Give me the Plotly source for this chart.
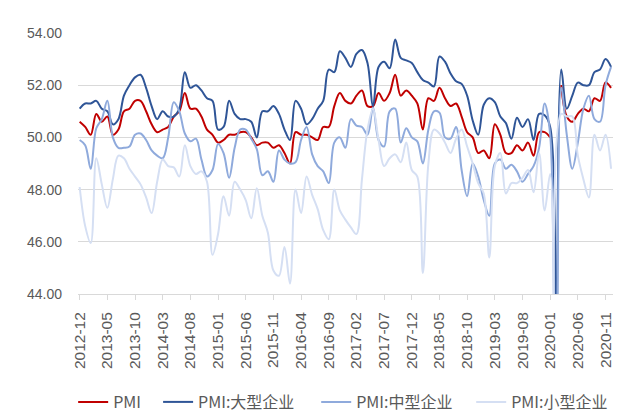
import pandas as pd
import plotly.graph_objects as go

months = pd.date_range("2012-12-01", periods=97, freq="MS").strftime("%Y-%m").tolist()

tick_labels = ["2012-12", "2013-05", "2013-10", "2014-03", "2014-08", "2015-01", "2015-06",
               "2015-11", "2016-04", "2016-09", "2017-02", "2017-07", "2017-12", "2018-05",
               "2018-10", "2019-03", "2019-08", "2020-01", "2020-06", "2020-11"]

# headline PMI has no point for 2020-02 in the chart (gap in the red line)
pmi = [50.6,
       50.4, 50.1, 50.9, 50.6, 50.8, 50.1, 50.3, 51.0, 51.1, 51.4, 51.4, 51.0,
       50.5, 50.2, 50.3, 50.4, 50.8, 51.0, 51.7, 51.1, 51.1, 50.8, 50.3, 50.1,
       49.8, 49.9, 50.1, 50.1, 50.2, 50.2, 50.0, 49.7, 49.8, 49.8, 49.6, 49.7,
       49.4, 49.0, 50.2, 50.1, 50.1, 50.0, 49.9, 50.4, 50.4, 51.2, 51.7, 51.4,
       51.3, 51.6, 51.8, 51.2, 51.2, 51.7, 51.4, 51.7, 52.4, 51.6, 51.8, 51.6,
       51.3, 50.3, 51.5, 51.4, 51.9, 51.5, 51.2, 51.3, 50.8, 50.2, 50.0, 49.4,
       49.5, 49.2, 50.5, 50.1, 49.4, 49.4, 49.7, 49.5, 49.8, 49.3, 50.2, 50.2,
       50.0, None, 52.0, 50.8, 50.6, 50.9, 51.1, 51.0, 51.5, 51.4, 52.1, 51.9]

pmi_large = [51.1,
             51.3, 51.3, 51.4, 51.1, 51.0, 50.5, 50.7, 51.6, 52.0, 52.3, 52.4, 51.9,
             51.2, 50.7, 51.0, 50.8, 50.8, 51.1, 52.5, 51.9, 52.0, 51.8, 51.5, 51.4,
             50.3, 50.4, 51.4, 50.9, 50.7, 50.7, 50.6, 50.0, 51.0, 51.0, 51.2, 50.9,
             50.3, 49.9, 51.4, 51.1, 50.5, 50.7, 51.1, 51.4, 52.6, 52.5, 53.3, 53.05,
             52.7, 53.2, 53.35, 52.85, 51.2, 52.7, 52.9, 52.65, 53.75, 53.05, 52.95, 52.85,
             52.5, 52.2, 52.1, 51.95, 53.1, 52.9, 52.45, 52.15, 52.05, 51.6, 50.65, 50.1,
             51.25, 51.5, 51.35, 50.8, 50.55, 49.95, 50.75, 50.4, 50.7, 49.9, 50.9, 50.85,
             50.4, 36.3, 52.6, 51.1, 51.6, 52.1, 52.0, 52.0, 52.5, 52.6, 53.0, 52.7]

pmi_medium = [49.9,
              49.7, 48.8, 50.35, 50.7, 51.4, 50.0, 49.6, 49.6, 49.65, 50.1, 50.15, 49.9,
              49.5, 49.3, 49.2, 50.0, 51.35, 51.0, 50.15, 49.85, 49.95, 49.15, 48.5, 48.75,
              49.75, 49.4, 48.45, 49.6, 50.3, 50.3, 49.95, 49.55, 48.55, 48.7, 48.3, 49.5,
              49.15, 49.0, 49.05, 49.9, 50.4, 49.35, 48.9, 48.7, 48.25, 49.8, 50.0, 49.6,
              50.7, 50.45, 50.4, 50.1, 51.15, 49.9, 49.65, 51.0, 51.1, 49.8, 50.35, 50.0,
              49.85, 49.0, 50.3, 51.0, 50.95, 50.0, 49.95, 50.4, 48.75, 47.75, 49.0, 48.5,
              47.6, 47.0, 49.0, 49.15, 48.8, 48.95, 48.7, 48.3, 48.6, 48.9, 49.6, 51.3,
              50.1, 35.5, 51.9, 50.1, 48.8, 49.8, 51.1, 51.6, 50.7, 50.6, 52.0, 52.7]

pmi_small = [48.1,
             46.6, 45.95, 49.2, 48.2, 47.3, 48.4, 49.3, 49.2, 48.8, 48.5, 48.2, 47.7,
             47.1, 48.3, 49.15, 48.9, 48.85, 48.5, 49.7, 48.9, 48.6, 48.7, 48.3, 45.5,
             46.3, 47.75, 47.0, 48.3, 48.0, 47.6, 46.9, 48.05, 47.0, 46.35, 44.9, 44.7,
             45.8, 44.4, 48.0, 47.1, 48.5, 47.8, 47.25, 46.45, 46.1, 48.0, 47.2, 46.85,
             46.55, 46.3, 48.4, 50.3, 51.1, 49.9, 48.9, 49.2, 49.35, 49.05, 49.8, 48.75,
             48.5, 44.8, 49.0, 50.3, 50.15, 49.8, 49.4, 49.95, 50.3, 49.65, 49.0, 48.25,
             47.85, 45.4, 48.9, 49.4, 47.85, 48.25, 48.25, 48.45, 48.75, 47.9, 49.4, 47.2,
             48.6, 34.1, 50.9, 50.8, 50.8, 49.3, 48.4, 47.7, 50.1, 49.5, 50.1, 48.8]

# name, values, colour, legend id, legend left edge (container fraction)
series = [
    ("PMI", pmi, "#C00000", "legend", 0.118),
    ("PMI:大型企业", pmi_large, "#2F5597", "legend2", 0.255),
    ("PMI:中型企业", pmi_medium, "#8FAADC", "legend3", 0.510),
    ("PMI:小型企业", pmi_small, "#D5DFF3", "legend4", 0.760),
]

fig = go.Figure()
for name, vals, color, leg, _ in series:
    fig.add_trace(go.Scatter(
        x=months, y=vals, name=name, mode="lines",
        line=dict(color=color, width=2, shape="spline", smoothing=1),
        legend=leg,
    ))

legend_font = dict(family="Noto Sans CJK SC, Liberation Sans", size=16, color="#595959")
legends = {}
for name, vals, color, leg, lx in series:
    legends[leg] = dict(x=lx, y=10 / 412, xref="container", yref="container",
                        xanchor="left", yanchor="middle",
                        orientation="h", font=legend_font, bgcolor="rgba(0,0,0,0)")

fig.update_layout(
    width=620, height=412,
    margin=dict(l=78, r=7, t=33, b=118),
    paper_bgcolor="white", plot_bgcolor="white",
    font=dict(family="Liberation Sans, Noto Sans CJK SC", color="#595959"),
    showlegend=True,
    **legends,
)
fig.update_xaxes(
    type="category", range=[-0.3, 96.35],
    tickmode="array", tickvals=tick_labels, ticktext=tick_labels,
    tickangle=-90, tickfont=dict(size=15.5, color="#595959"),
    showgrid=False, showline=True, linecolor="#D9D9D9", linewidth=1,
    ticks="outside", ticklen=5, tickcolor="#D9D9D9", ticklabelstandoff=6,
)
fig.update_yaxes(
    range=[44, 54], tickvals=[44, 46, 48, 50, 52, 54], tickformat=".2f",
    tickfont=dict(size=14, color="#595959"),
    showgrid=True, gridcolor="#D9D9D9", gridwidth=1, zeroline=False,
    ticks="", showline=False, ticklabelstandoff=15,
)

# the page's default body margin would shift the chart by 8px
fig.write_html("out.html", config={"displayModeBar": False},
               post_script="document.body.style.margin='0';")
